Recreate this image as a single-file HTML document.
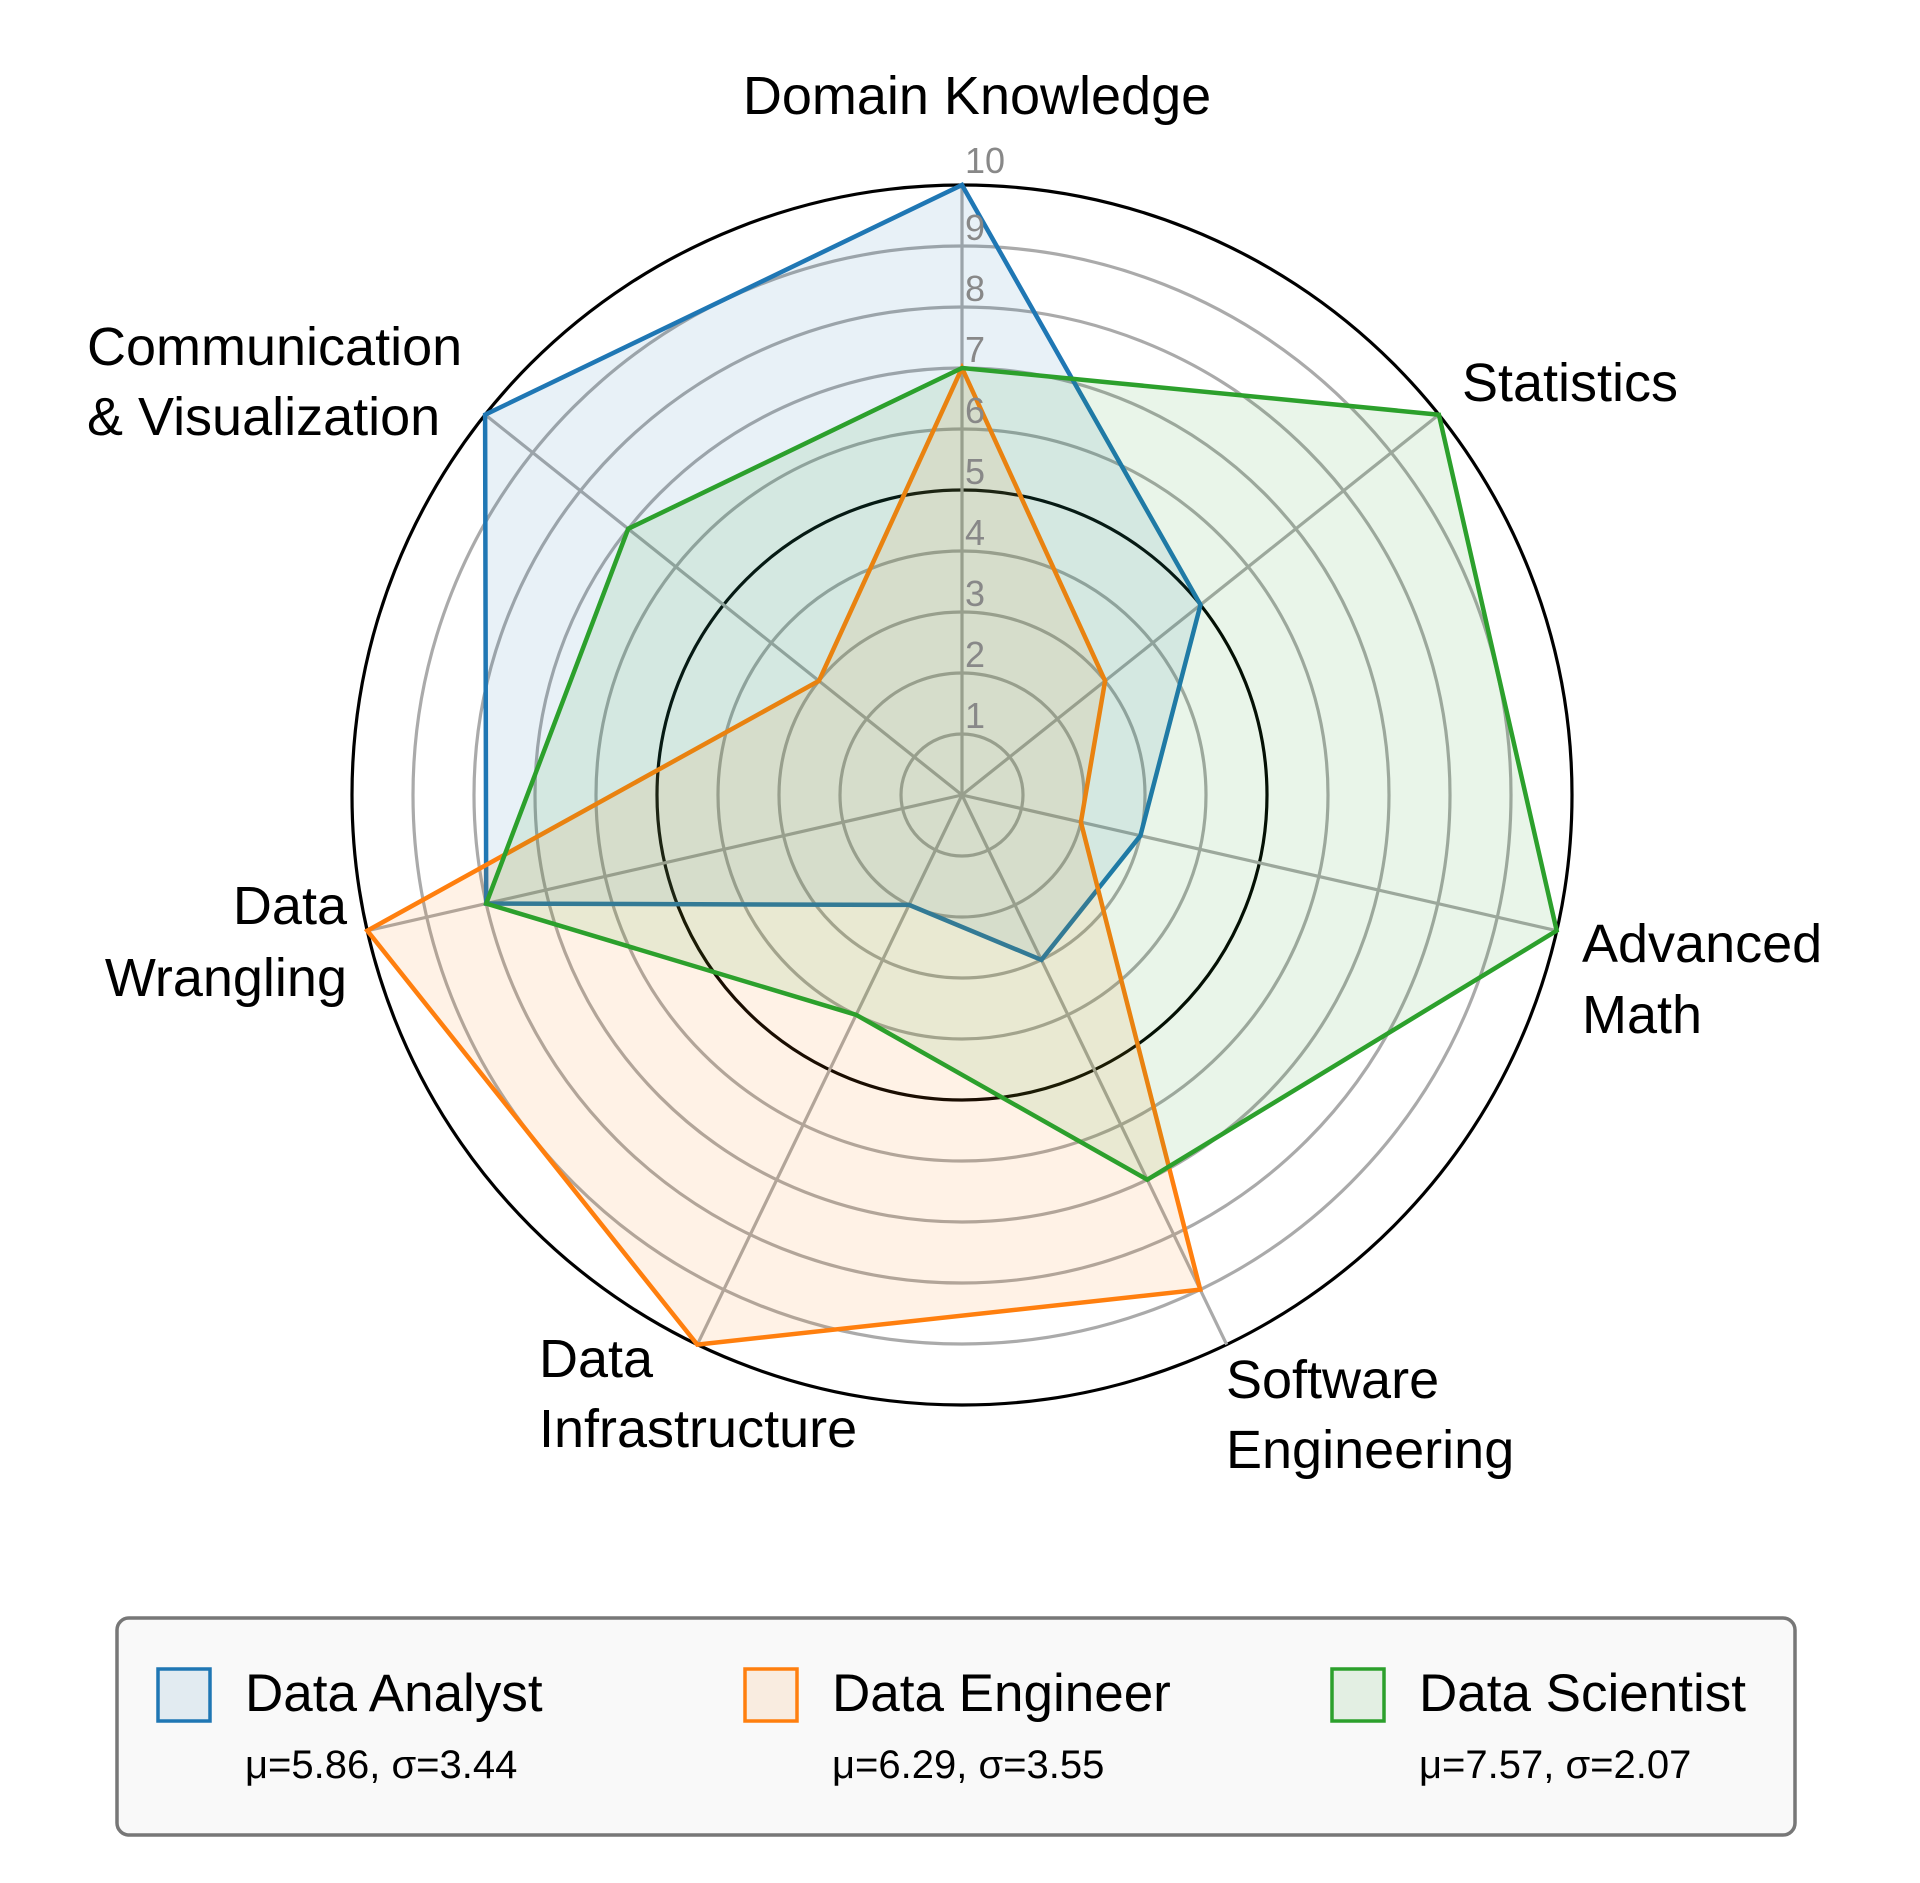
<!DOCTYPE html>
<html><head><meta charset="utf-8"><style>
body{margin:0;background:#fff;}
svg{display:block;font-family:"Liberation Sans",sans-serif;}
</style></head><body>
<svg id="chart" width="1920" height="1883" viewBox="0 0 1920 1883" xmlns="http://www.w3.org/2000/svg">
<rect width="1920" height="1883" fill="#fff"/>
<g id="grid"></g>
<g id="series"></g>
<g id="ticks"></g>
<g id="labels" font-size="54" fill="#000">
<text x="977" y="114" text-anchor="middle">Domain Knowledge</text>
<text x="1462" y="401">Statistics</text>
<text x="1582" y="962">Advanced<tspan x="1582" y="1033">Math</tspan></text>
<text x="1226" y="1398">Software<tspan x="1226" y="1468">Engineering</tspan></text>
<text x="539" y="1377">Data<tspan x="539" y="1447">Infrastructure</tspan></text>
<text x="347" y="924" text-anchor="end">Data<tspan x="347" y="996">Wrangling</tspan></text>
<text x="87" y="365">Communication<tspan x="87" y="435">&amp; Visualization</tspan></text>
</g>
<g id="legend">
<rect x="117" y="1618" width="1678" height="217" rx="12" fill="#f9f9f9" stroke="#777" stroke-width="3.5"/>
<g id="legend-entries"></g>
</g>
</svg>
<script>
const categories = ["Domain Knowledge","Statistics","Advanced Math","Software Engineering","Data Infrastructure","Data Wrangling","Communication & Visualization"];
const analystValues = [10,5,3,3,2,8,10];
const engineerValues = [7,3,2,9,10,10,3];
const scientistValues = [7,10,10,7,4,8,7];
const seriesNames = ["Data Analyst","Data Engineer","Data Scientist"];
const tickLabels = [1,2,3,4,5,6,7,8,9,10];

const NS = "http://www.w3.org/2000/svg";
const CX = 962, CY = 795, R = 610, MAXV = 10;
const colors = ["#1f77b4","#ff7f0e","#2ca02c"];
function rScale(v){ return v / MAXV * R; }
function angle(i){ return -Math.PI/2 + i * 2*Math.PI/categories.length; }
function pt(i, v){ const a = angle(i), r = rScale(v); return [CX + r*Math.cos(a), CY + r*Math.sin(a)]; }
function mk(tag, attrs, parent){ const e = document.createElementNS(NS, tag); for (const k in attrs) e.setAttribute(k, attrs[k]); parent.appendChild(e); return e; }

const grid = document.getElementById("grid");
tickLabels.forEach(t => {
  const c = mk("circle", {cx:CX, cy:CY, r:rScale(t), fill:"none", stroke:(t===5||t===10)?"#000":"#aaaaaa", "stroke-width":3.2}, grid);
  
  
});
categories.forEach((c, i) => {
  const p = pt(i, MAXV);
  const l = mk("line", {x1:CX, y1:CY, x2:p[0], y2:p[1], stroke:"#aaaaaa", "stroke-width":3.2}, grid);
  
  
});

const allValues = [analystValues, engineerValues, scientistValues];
const sg = document.getElementById("series");
allValues.forEach((vals, s) => {
  const pts = vals.map((v, i) => pt(i, v).map(n => n.toFixed(1)).join(",")).join(" ");
  const poly = mk("polygon", {points:pts, fill:colors[s], "fill-opacity":0.1, stroke:colors[s], "stroke-width":4.5, "stroke-linejoin":"miter"}, sg);
  
  
});

const tg = document.getElementById("ticks");
tickLabels.forEach(t => {
  const tx = mk("text", {x:CX + 3, y:CY - rScale(t) + (t===10 ? -12 : -6), fill:"#888", "font-size":36}, tg);
  tx.textContent = t;
  
  
});

const lg = document.getElementById("legend-entries");
const lx = [158, 745, 1332];
allValues.forEach((vals, s) => {
  const n = vals.length;
  const mean = vals.reduce((a,b)=>a+b,0)/n;
  const sd = Math.sqrt(vals.reduce((a,b)=>a+(b-mean)*(b-mean),0)/(n-1));
  const g = mk("g", {}, lg);
  
  
  mk("rect", {x:lx[s], y:1669, width:52, height:52, fill:colors[s], "fill-opacity":0.1, stroke:colors[s], "stroke-width":3.5}, g);
  const t1 = mk("text", {x:lx[s]+87, y:1711, "font-size":53}, g);
  t1.textContent = seriesNames[s];
  const t2 = mk("text", {x:lx[s]+87, y:1778, "font-size":40}, g);
  t2.textContent = "μ=" + mean.toFixed(2) + ", σ=" + sd.toFixed(2);
});
</script>
</body></html>
